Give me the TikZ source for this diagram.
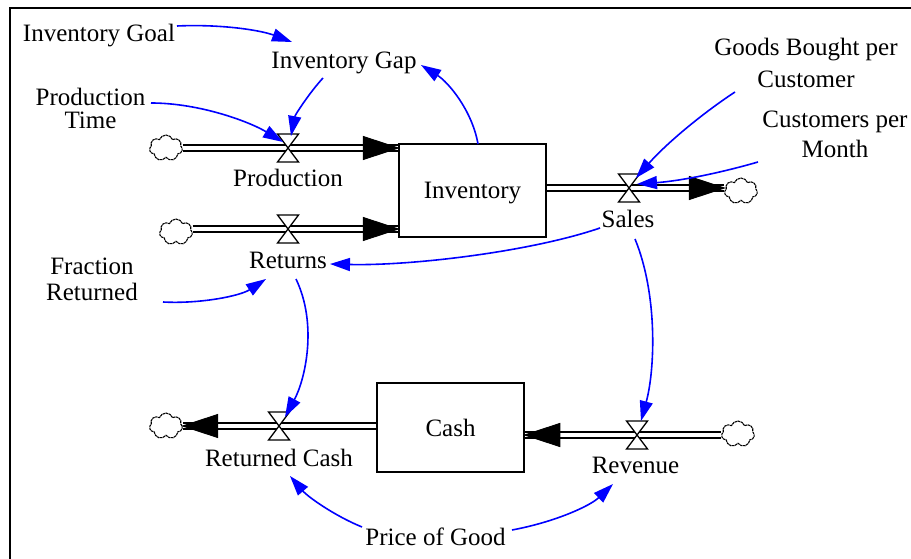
\documentclass[tikz,border=0pt]{standalone}
\usepackage{fontspec}
\setmainfont{Liberation Serif}
\usetikzlibrary{arrows.meta,shapes.symbols}
\definecolor{linkblue}{RGB}{0,0,255}
\begin{document}
\begin{tikzpicture}[x=1pt,y=-1pt,
  every node/.style={font=\fontsize{25}{30}\selectfont, inner sep=0pt},
  lbl/.style={anchor=base, align=center},
  stock/.style={draw, line width=1.5pt, fill=white, text depth=0pt},
  pipe/.style={line width=1.5pt, double=white, double distance=4.5pt},
  flowhead/.style={fill=black, draw=black, line width=1pt, line join=miter},
  link/.style={draw=linkblue, line width=1.6pt, -{Triangle[length=20pt,width=13pt]}},
  sink/.style={cloud, cloud puffs=7, cloud puff arc=140, aspect=1.25, draw,
    line width=1.1pt, dash pattern=on 2.5pt off 0.6pt, fill=white,
    minimum width=33pt, minimum height=26pt},
  valve/.pic={\draw[line width=1.3pt, fill=white]
    (-10.5,-14) -- (10.5,-14) -- (-10.5,14) -- (10.5,14) -- cycle;}
]
\useasboundingbox (0,0) rectangle (911,559);

% frame
\draw[line width=2.2pt] (10,560) -- (10,8) -- (912,8);

% stocks
\node[stock, minimum width=147pt, minimum height=93pt] (inv) at (472.5,190.5) {Inventory};
\node[stock, minimum width=147pt, minimum height=89pt] (cash) at (450.5,427.5) {Cash};

% valve positions
\coordinate (vP) at (288,148);
\coordinate (vR) at (288,229);
\coordinate (vS) at (629,188);
\coordinate (vRC) at (279,426);
\coordinate (vV) at (637,435);

% sources and sinks
\node[sink] (cP) at (166,148) {};
\node[sink] (cR) at (176,232) {};
\node[sink] (cS) at (741,191) {};
\node[sink] (cRC) at (166,426) {};
\node[sink] (cV) at (738,434) {};

% pipes
\draw[pipe] (cP.east |- vP) -- (inv.west |- vP);
\draw[pipe] (cR.east |- vR) -- (inv.west |- vR);
\draw[pipe] (inv.east |- vS) -- (cS.west |- vS);
\draw[pipe] (cash.west |- vRC) -- (cRC.east |- vRC);
\draw[pipe] (cV.west |- vV) -- (cash.east |- vV);

% flow arrowheads
\path[flowhead] (inv.west |- vP) -- ++(-35,-11.5) -- ++(0,23) -- cycle;
\path[flowhead] (inv.west |- vR) -- ++(-35,-11.5) -- ++(0,23) -- cycle;
\path[flowhead] (cS.west |- vS) -- ++(-35,-11.5) -- ++(0,23) -- cycle;
\path[flowhead] (cRC.east |- vRC) -- ++(35,-11.5) -- ++(0,23) -- cycle;
\path[flowhead] (cash.east |- vV) -- ++(35,-11.5) -- ++(0,23) -- cycle;

% valves
\pic at (vP) {valve};
\pic at (vR) {valve};
\pic at (vS) {valve};
\pic at (vRC) {valve};
\pic at (vV) {valve};

% labels
\node[lbl] (prod) at (288,187) {Production};
\node[lbl] (ret) at (288,269) {Returns};
\node[lbl] (sales) at (628,228) {Sales};
\node[lbl] (rcash) at (279,466) {Returned Cash};
\node[lbl] (rev) at (635.5,473) {Revenue};
\node[lbl] (goal) at (99,42) {Inventory Goal};
\node[lbl] (gap) at (344,69) {Inventory Gap};
\node[lbl] (price) at (435.5,545) {Price of Good};
\node[align=center] (ptime) at (90.5,108) {Production\\[-7pt]Time};
\node[align=center] (goods) at (806,63) {Goods Bought per\\[2pt]Customer};
\node[align=center] (cust) at (835,134) {Customers per\\Month};
\node[align=center] (frac) at (92,279) {Fraction\\[-4pt]Returned};

% link end points
\coordinate (goal-o) at (177,26);
\coordinate (gap-i) at (292,42);
\coordinate (gap-o) at (323,78);
\coordinate (gap-i2) at (421,65);
\coordinate (inv-o) at (478,144);
\coordinate (vP-a) at (291,136);
\coordinate (ptime-o) at (151,103);
\coordinate (vP-b) at (283,142);
\coordinate (goods-o) at (735,92);
\coordinate (vS-a) at (636,178);
\coordinate (cust-o) at (758,162);
\coordinate (vS-b) at (637,184);
\coordinate (sales-o) at (600,228);
\coordinate (ret-i) at (330,264);
\coordinate (frac-o) at (163,302);
\coordinate (ret-i2) at (266,279);
\coordinate (ret-o) at (296,279);
\coordinate (vRC-a) at (285,417);
\coordinate (sales-o2) at (635,239);
\coordinate (vV-a) at (641,421);
\coordinate (price-o) at (362,527);
\coordinate (rcash-i) at (290,476);
\coordinate (price-o2) at (512,530);
\coordinate (rev-i) at (613,484);

% information links
\draw[link] (goal-o) .. controls (220,24) and (260,30) .. (gap-i);
\draw[link] (gap-o) .. controls (310,92) and (295,115) .. (vP-a);
\draw[link] (ptime-o) .. controls (200,103) and (250,122) .. (vP-b);
\draw[link] (inv-o) .. controls (472,110) and (448,82) .. (gap-i2);
\draw[link] (goods-o) .. controls (700,115) and (665,145) .. (vS-a);
\draw[link] (cust-o) .. controls (720,173) and (680,181) .. (vS-b);
\draw[link] (sales-o) .. controls (530,252) and (410,266) .. (ret-i);
\draw[link] (frac-o) .. controls (200,304) and (240,296) .. (ret-i2);
\draw[link] (ret-o) .. controls (318,325) and (305,380) .. (vRC-a);
\draw[link] (sales-o2) .. controls (658,295) and (655,370) .. (vV-a);
\draw[link] (price-o) .. controls (335,516) and (308,497) .. (rcash-i);
\draw[link] (price-o2) .. controls (555,522) and (590,506) .. (rev-i);
\end{tikzpicture}
\end{document}
